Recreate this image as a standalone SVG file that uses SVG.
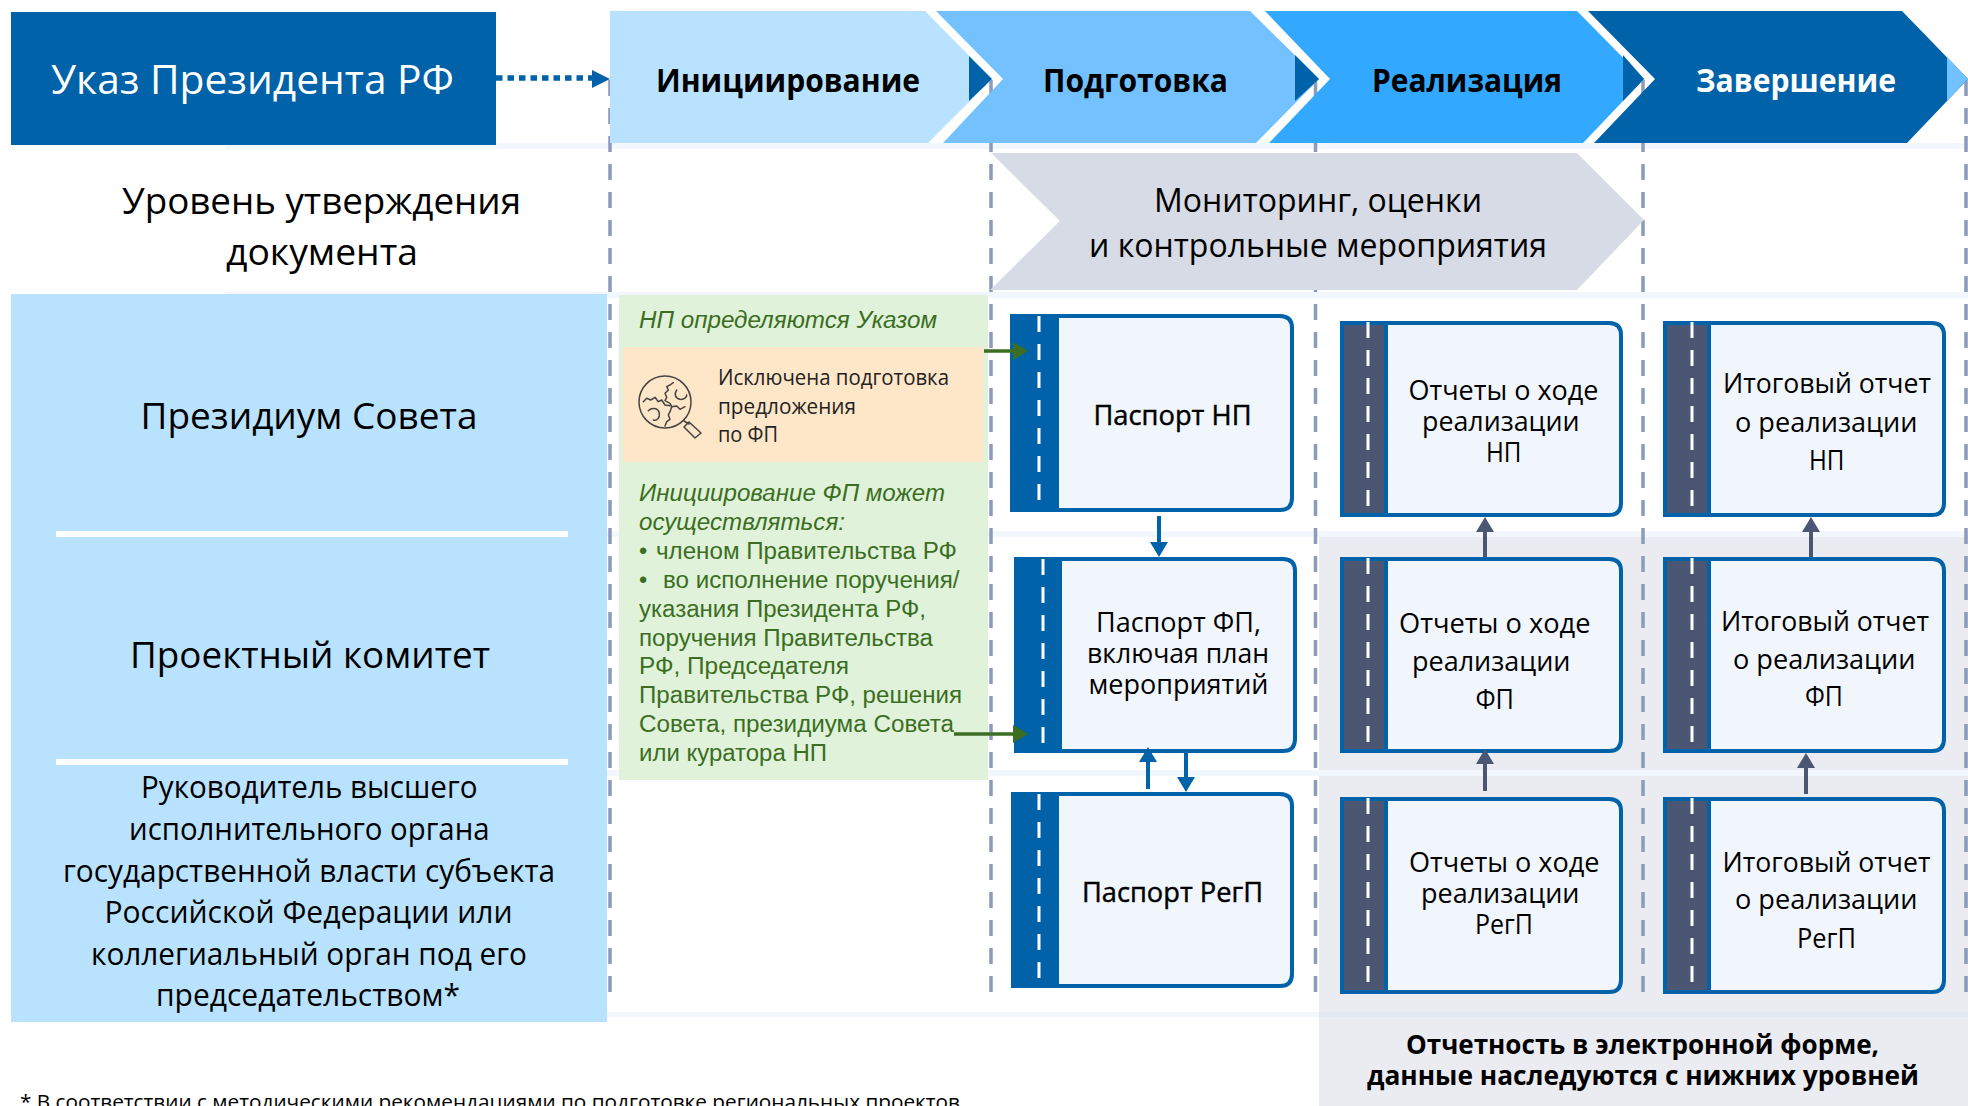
<svg xmlns="http://www.w3.org/2000/svg" width="1968" height="1106" viewBox="0 0 1968 1106">
<style>
text{font-family:"Open Sans","Noto Sans","Liberation Sans",sans-serif;fill:#000}
.h1{font-size:40px;fill:#fff}
.ph{font-size:32px;font-weight:700}
.ph.w{fill:#fff}
.lv{font-size:36px}
.lv2{font-size:31px}
.mn{font-size:33px}
.nd{font-size:28px}
.ndb{font-size:28px;stroke:#000;stroke-width:.45px}
.or{font-size:21px;fill:#222}
.gr{font-family:"Liberation Sans",Arial,sans-serif;font-size:23.5px;fill:#3b6e22}
.it{font-style:italic}
.bt{font-size:27px;font-weight:700}
.fn{font-size:20px}
.band{fill:#f2f7fd}
.dash{stroke:#8c9bba;stroke-width:3.5;stroke-dasharray:16 12;fill:none}
.card{fill:#f1f6fd;stroke:#0062a8;stroke-width:4;stroke-linejoin:round}
.sb{fill:#0062a8}
.sg{fill:#4a5672;stroke:#0062a8;stroke-width:4}
.rd{stroke:#fff;stroke-width:3;stroke-dasharray:16 12;fill:none}
.ab{stroke:#0062a8;stroke-width:4;fill:none;marker-end:url(#hb)}
.ag{stroke:#4a5672;stroke-width:4;fill:none;marker-end:url(#hg)}
.av{stroke:#3b6e22;stroke-width:3.5;fill:none;marker-end:url(#hv)}
.ic{fill:none;stroke:#444;stroke-width:1.5;stroke-linecap:round;stroke-linejoin:round}
</style>
<defs>
<marker id="hb" markerUnits="userSpaceOnUse" markerWidth="17" markerHeight="20" refX="1" refY="10" orient="auto"><path d="M0,1 L15,10 L0,19 Z" fill="#0062a8"/></marker>
<marker id="hg" markerUnits="userSpaceOnUse" markerWidth="17" markerHeight="20" refX="1" refY="10" orient="auto"><path d="M0,1 L15,10 L0,19 Z" fill="#4a5672"/></marker>
<marker id="hv" markerUnits="userSpaceOnUse" markerWidth="17" markerHeight="20" refX="1" refY="10" orient="auto"><path d="M0,1 L15,10 L0,19 Z" fill="#3b6e22"/></marker>
</defs>

<g id="background">
<rect x="1319" y="537" width="649" height="569" fill="#ebecf2"/>
<rect class="band" x="225" y="143" width="1743" height="6"/>
<rect class="band" x="225" y="292" width="1743" height="6"/>
<rect class="band" x="225" y="531" width="1743" height="6"/>
<rect class="band" x="225" y="770" width="1743" height="6"/>
<rect class="band" x="225" y="1012" width="1094" height="5"/>
<rect x="1319" y="1012" width="649" height="5" fill="#e3e9f3"/>
</g>

<g id="guides">
<path class="dash" d="M610,80V992"/>
<path class="dash" d="M991,80V992"/>
<path class="dash" d="M1315.5,80V992"/>
<path class="dash" d="M1643,80V992"/>
<path class="dash" d="M1966,80V992"/>
</g>

<g id="decree"><rect x="11" y="12" width="485" height="133" fill="#0062a8"/><text class="h1" x="51" y="94" textLength="403" lengthAdjust="spacingAndGlyphs">Указ Президента РФ</text></g>

<g id="phase-init"><path d="M610,11H925L992,79L928,143H610Z" fill="#b9e2ff"/><path d="M969,56L992,79L969,101Z" fill="#0062a8"/><text class="ph" x="656" y="92" textLength="264" lengthAdjust="spacingAndGlyphs">Инициирование</text></g>
<g id="phase-prep"><path d="M936,11H1250L1319,79L1256,143H943L1003,79Z" fill="#73c2ff"/><path d="M1295,55L1319,79L1295,101Z" fill="#0062a8"/><text class="ph" x="1043" y="92" textLength="185" lengthAdjust="spacingAndGlyphs">Подготовка</text></g>
<g id="phase-real"><path d="M1265,11H1577L1644,79L1583,143H1269L1330,79Z" fill="#33a8ff"/><path d="M1623,55L1644,79L1623,101Z" fill="#0062a8"/><text class="ph" x="1372" y="92" textLength="190" lengthAdjust="spacingAndGlyphs">Реализация</text></g>
<g id="phase-done"><path d="M1588,11H1902L1968,79L1907,143H1594L1655,79Z" fill="#0062a8"/><path d="M1947,57L1968,79L1947,101Z" fill="#73c2ff"/><text class="ph w" x="1696" y="92" textLength="200" lengthAdjust="spacingAndGlyphs">Завершение</text></g>

<g id="approval-level"><text class="lv" x="122" y="214" textLength="399" lengthAdjust="spacingAndGlyphs">Уровень утверждения</text><text class="lv" x="226" y="265" textLength="192" lengthAdjust="spacingAndGlyphs">документа</text></g>

<g id="monitoring"><path d="M991,153H1577L1644,220L1577,290H990L1060,221Z" fill="#d6dbe5"/><text class="mn" x="1154" y="212" textLength="328" lengthAdjust="spacingAndGlyphs">Мониторинг, оценки</text><text class="mn" x="1089" y="257" textLength="458" lengthAdjust="spacingAndGlyphs">и контрольные мероприятия</text></g>

<g id="levels">
<rect x="11" y="294" width="596" height="728" fill="#b9e2ff"/>
<rect x="56" y="531" width="512" height="6" fill="#fff"/>
<rect x="56" y="759" width="512" height="6" fill="#fff"/>
<text class="lv" x="140.5" y="429" textLength="337" lengthAdjust="spacingAndGlyphs">Президиум Совета</text>
<text class="lv" x="130" y="668" textLength="360" lengthAdjust="spacingAndGlyphs">Проектный комитет</text>
<text class="lv2" x="141" y="798" textLength="336.5" lengthAdjust="spacingAndGlyphs">Руководитель высшего</text>
<text class="lv2" x="129" y="840" textLength="360.5" lengthAdjust="spacingAndGlyphs">исполнительного органа</text>
<text class="lv2" x="63" y="882" textLength="492" lengthAdjust="spacingAndGlyphs">государственной власти субъекта</text>
<text class="lv2" x="104.5" y="923" textLength="408" lengthAdjust="spacingAndGlyphs">Российской Федерации или</text>
<text class="lv2" x="91" y="965" textLength="436" lengthAdjust="spacingAndGlyphs">коллегиальный орган под его</text>
<text class="lv2" x="156" y="1006" textLength="304" lengthAdjust="spacingAndGlyphs">председательством*</text>
</g>

<g id="initiation-panel">
<rect x="619" y="295" width="369" height="485" fill="#e0f2da"/>
<rect x="623" y="347" width="360" height="115" fill="#fee6c8"/>
<text class="gr it" x="639" y="328" textLength="298" lengthAdjust="spacingAndGlyphs">НП определяются Указом</text>
<g id="icon-search" class="ic">
<circle cx="665" cy="402" r="26"/>
<path d="M684,421L689,424M689,422L701,433L695,438L684,427Z"/>
<path d="M673.3,382.7L670,385L666.7,386.7L668.3,390L665,393.3L666.7,397.3L665,400.7L670,403.3L671.7,406.7L676.7,406L680,409.3L685,406.7"/>
<path d="M671.7,406.7L670,411.7L668.3,415L670,419.3L666.7,421.7L665,426"/>
<path d="M643.3,401.7L646.7,398.3L650.7,400L655,397.3L658.3,401.7L661.7,400L665,405L670,405.7"/>
<path d="M676.7,390C674,394 675,398 680,399.3C684,400 687,397 686.7,395"/>
<path d="M648.3,410.7C652,407 658,408 659.3,413C660,418 657,421 653.3,420"/>
</g>
<text class="or" x="718" y="385" textLength="231" lengthAdjust="spacingAndGlyphs">Исключена подготовка</text>
<text class="or" x="718" y="414" textLength="138" lengthAdjust="spacingAndGlyphs">предложения</text>
<text class="or" x="718" y="442" textLength="60" lengthAdjust="spacingAndGlyphs">по ФП</text>
<text class="gr it" x="639" y="501" textLength="306" lengthAdjust="spacingAndGlyphs">Инициирование ФП может</text>
<text class="gr it" x="639" y="530" textLength="206" lengthAdjust="spacingAndGlyphs">осуществляться:</text>
<text class="gr" x="639" y="559">•</text><text class="gr" x="656" y="559" textLength="301" lengthAdjust="spacingAndGlyphs">членом Правительства РФ</text>
<text class="gr" x="639" y="588">•</text><text class="gr" x="663" y="588" textLength="296.5" lengthAdjust="spacingAndGlyphs">во исполнение поручения/</text>
<text class="gr" x="639" y="617" textLength="287" lengthAdjust="spacingAndGlyphs">указания Президента РФ,</text>
<text class="gr" x="639" y="646" textLength="294" lengthAdjust="spacingAndGlyphs">поручения Правительства</text>
<text class="gr" x="639" y="674" textLength="210" lengthAdjust="spacingAndGlyphs">РФ, Председателя</text>
<text class="gr" x="639" y="703" textLength="323" lengthAdjust="spacingAndGlyphs">Правительства РФ, решения</text>
<text class="gr" x="639" y="732" textLength="315" lengthAdjust="spacingAndGlyphs">Совета, президиума Совета</text>
<text class="gr" x="639" y="761" textLength="188" lengthAdjust="spacingAndGlyphs">или куратора НП</text>
</g>

<g id="passport-np">
<rect class="sb" x="1010" y="314" width="49" height="198"/><path class="card" d="M1057,316H1280Q1292,316 1292,328V498Q1292,510 1280,510H1057Z"/>
<path class="rd" d="M1039,316V502"/>
<text class="ndb" x="1093.5" y="425" textLength="158" lengthAdjust="spacingAndGlyphs">Паспорт НП</text>
</g>
<g id="passport-fp">
<rect class="sb" x="1014" y="557" width="48" height="196"/><path class="card" d="M1060,559H1283Q1295,559 1295,571V739Q1295,751 1283,751H1060Z"/>
<path class="rd" d="M1043,559V745"/>
<text class="nd" x="1096" y="632" textLength="165" lengthAdjust="spacingAndGlyphs">Паспорт ФП,</text>
<text class="nd" x="1087" y="663" textLength="182" lengthAdjust="spacingAndGlyphs">включая план</text>
<text class="nd" x="1088.5" y="694" textLength="180" lengthAdjust="spacingAndGlyphs">мероприятий</text>
</g>
<g id="passport-rp">
<rect class="sb" x="1011" y="792" width="48" height="196"/><path class="card" d="M1057,794H1280Q1292,794 1292,806V974Q1292,986 1280,986H1057Z"/>
<path class="rd" d="M1039,794V980"/>
<text class="ndb" x="1082" y="902" textLength="181" lengthAdjust="spacingAndGlyphs">Паспорт РегП</text>
</g>

<g id="report-np">
<rect class="sg" x="1342" y="323" width="44" height="192"/><path class="card" d="M1386,323H1609Q1621,323 1621,335V503Q1621,515 1609,515H1386Z"/>
<path class="rd" d="M1368,322V508"/>
<text class="nd" x="1408.5" y="400" textLength="190" lengthAdjust="spacingAndGlyphs">Отчеты о ходе</text>
<text class="nd" x="1422" y="431" textLength="157.5" lengthAdjust="spacingAndGlyphs">реализации</text>
<text class="nd" x="1486" y="462" textLength="35.5" lengthAdjust="spacingAndGlyphs">НП</text>
</g>
<g id="final-np">
<rect class="sg" x="1665" y="323" width="44" height="192"/><path class="card" d="M1709,323H1932Q1944,323 1944,335V503Q1944,515 1932,515H1709Z"/>
<path class="rd" d="M1692,322V508"/>
<text class="nd" x="1723" y="393" textLength="208" lengthAdjust="spacingAndGlyphs">Итоговый отчет</text>
<text class="nd" x="1735" y="432" textLength="182.5" lengthAdjust="spacingAndGlyphs">о реализации</text>
<text class="nd" x="1809" y="470" textLength="35.5" lengthAdjust="spacingAndGlyphs">НП</text>
</g>
<g id="report-fp">
<rect class="sg" x="1342" y="559" width="44" height="192"/><path class="card" d="M1386,559H1609Q1621,559 1621,571V739Q1621,751 1609,751H1386Z"/>
<path class="rd" d="M1368,558V744"/>
<text class="nd" x="1399" y="633" textLength="191.5" lengthAdjust="spacingAndGlyphs">Отчеты о ходе</text>
<text class="nd" x="1412" y="671" textLength="158.5" lengthAdjust="spacingAndGlyphs">реализации</text>
<text class="nd" x="1475.5" y="709" textLength="38.5" lengthAdjust="spacingAndGlyphs">ФП</text>
</g>
<g id="final-fp">
<rect class="sg" x="1665" y="559" width="44" height="192"/><path class="card" d="M1709,559H1932Q1944,559 1944,571V739Q1944,751 1932,751H1709Z"/>
<path class="rd" d="M1692,558V744"/>
<text class="nd" x="1721" y="631" textLength="208" lengthAdjust="spacingAndGlyphs">Итоговый отчет</text>
<text class="nd" x="1733" y="669" textLength="182.5" lengthAdjust="spacingAndGlyphs">о реализации</text>
<text class="nd" x="1805" y="706" textLength="38" lengthAdjust="spacingAndGlyphs">ФП</text>
</g>
<g id="report-rp">
<rect class="sg" x="1342" y="799" width="44" height="193"/><path class="card" d="M1386,799H1609Q1621,799 1621,811V980Q1621,992 1609,992H1386Z"/>
<path class="rd" d="M1368,798V984"/>
<text class="nd" x="1409" y="872" textLength="190.5" lengthAdjust="spacingAndGlyphs">Отчеты о ходе</text>
<text class="nd" x="1421" y="903" textLength="158.5" lengthAdjust="spacingAndGlyphs">реализации</text>
<text class="nd" x="1475" y="934" textLength="58" lengthAdjust="spacingAndGlyphs">РегП</text>
</g>
<g id="final-rp">
<rect class="sg" x="1665" y="799" width="44" height="193"/><path class="card" d="M1709,799H1932Q1944,799 1944,811V980Q1944,992 1932,992H1709Z"/>
<path class="rd" d="M1692,798V984"/>
<text class="nd" x="1722.5" y="872" textLength="208" lengthAdjust="spacingAndGlyphs">Итоговый отчет</text>
<text class="nd" x="1735" y="909" textLength="182.5" lengthAdjust="spacingAndGlyphs">о реализации</text>
<text class="nd" x="1797" y="948" textLength="59" lengthAdjust="spacingAndGlyphs">РегП</text>
</g>

<g id="connectors">
<path d="M496,78H592" stroke="#0062a8" stroke-width="5.5" stroke-dasharray="6.5 5" fill="none"/>
<path d="M592,70L610,79L592,88Z" fill="#0062a8"/>
<path class="av" d="M984,351H1014"/>
<path class="av" d="M954,734H1014"/>
<path class="ab" d="M1159,516V543"/>
<path class="ab" d="M1148,789V761"/>
<path class="ab" d="M1186,753V778"/>
<path class="ag" d="M1485,557V531"/>
<path class="ag" d="M1811,557V531"/>
<path class="ag" d="M1485,791V763"/>
<path class="ag" d="M1806,794V767"/>
</g>

<g id="reporting-note">
<text class="bt" x="1406" y="1054" textLength="473" lengthAdjust="spacingAndGlyphs">Отчетность в электронной форме,</text>
<text class="bt" x="1367" y="1085" textLength="552" lengthAdjust="spacingAndGlyphs">данные наследуются с нижних уровней</text>
</g>
<g id="footnote"><text class="fn" x="20" y="1109" textLength="940" lengthAdjust="spacingAndGlyphs">* В соответствии с методическими рекомендациями по подготовке региональных проектов</text></g>
</svg>
